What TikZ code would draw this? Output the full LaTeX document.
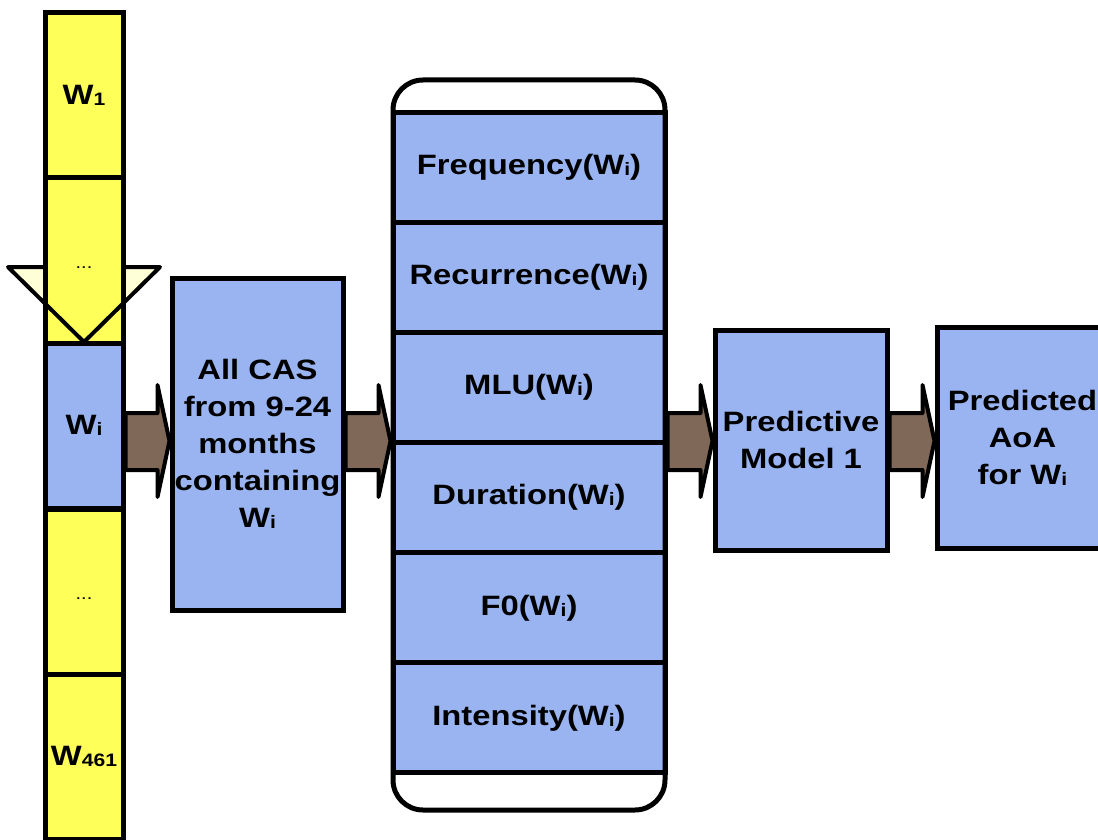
\documentclass[tikz,border=0pt]{standalone}
\usepackage{fontspec}
\setmainfont{Liberation Sans}[FakeStretch=1.17]
\usetikzlibrary{calc}
\definecolor{cyel}{RGB}{255,255,90}
\definecolor{cpale}{RGB}{255,255,215}
\definecolor{cblue}{RGB}{153,180,240}
\definecolor{cbrown}{RGB}{128,104,88}
\newcommand\sbs[1]{\raisebox{-1pt}{\fontsize{18}{18}\selectfont #1}}
\newcommand\dotsl{{\fontsize{17}{17}\selectfont\mdseries ...}}
\pgfdeclarelayer{bg}
\pgfsetlayers{bg,main}
\newcommand\blockarrow[2]{%
\begin{pgfonlayer}{bg}
\draw[barrow] (#1.east |- 0,413) -- ($(#2.west |- 0,413)+(-12,0)$) -- ($(#2.west |- 0,385)+(-12,0)$) -- (#2.west |- 0,441) -- ($(#2.west |- 0,497)+(-12,0)$) -- ($(#2.west |- 0,470)+(-12,0)$) -- (#1.east |- 0,470) -- cycle;
\end{pgfonlayer}}
\begin{document}
\begin{tikzpicture}[x=1pt,y=-1pt,
  lbl/.style={font=\fontsize{28}{37}\selectfont\bfseries, align=center},
  colcell/.style={draw=black, line width=5pt, minimum width=78pt, minimum height=165pt, inner sep=0pt, fill=cyel, lbl},
  dotcell/.style={colcell, label={[yshift=-7pt, inner sep=0pt]center:\dotsl}},
  bluebox/.style={draw=black, line width=5pt, inner sep=0pt, fill=cblue, lbl},
  featcell/.style={bluebox, minimum width=272pt, minimum height=110.17pt},
  barrow/.style={draw=black, fill=cbrown, line width=4pt, line join=round}]
\useasboundingbox (0,0) rectangle (1098,840);
\clip (0,0) rectangle (1098,840);
% down arrow (pale part)
\begin{pgfonlayer}{bg}
\fill[cpale] (8,267) -- (160,267) -- (84,342) -- cycle;
\end{pgfonlayer}
% word column
\node[colcell] (w1) at (84,95.5) {W\sbs{1}};
\node[dotcell] (d1) at (84,260.5) {};
\node[colcell, fill=cblue] (wi) at (84,425.5) {W\sbs{i}};
\node[dotcell] (d2) at (84,591.5) {};
\node[colcell] (wl) at (84,756.5) {W\sbs{461}};
\draw[line width=4pt, line join=round] (45,267) -- (8,267) -- (84,342) -- (160,267) -- (123,267);
% CAS box
\node[bluebox, minimum width=171pt, minimum height=332pt] (cas) at (257.5,444) {All CAS\\from 9-24\\months\\containing\\W\sbs{i}};
% feature column
\node[featcell] (f1) at (529,167.1) {Frequency(W\sbs{i})};
\node[featcell] (f2) at (529,277.3) {Recurrence(W\sbs{i})};
\node[featcell] (f3) at (529,387.4) {MLU(W\sbs{i})};
\node[featcell] (f4) at (529,497.6) {Duration(W\sbs{i})};
\node[featcell] (f5) at (529,607.8) {F0(W\sbs{i})};
\node[featcell] (f6) at (529,717.9) {Intensity(W\sbs{i})};
\node[draw=black, line width=5pt, rounded corners=30pt, minimum width=272pt, minimum height=730pt, inner sep=0pt] (feat) at (529,445) {};
% model and output
\node[bluebox, minimum width=172pt, minimum height=220pt] (model) at (801,440) {Predictive\\Model 1};
\node[bluebox, minimum width=171pt, minimum height=221pt] (out) at (1022.5,437.5) {Predicted\\AoA\\for W\sbs{i}};
% block arrows
\blockarrow{wi}{cas}
\blockarrow{cas}{feat}
\blockarrow{feat}{model}
\blockarrow{model}{out}
\end{tikzpicture}
\end{document}
